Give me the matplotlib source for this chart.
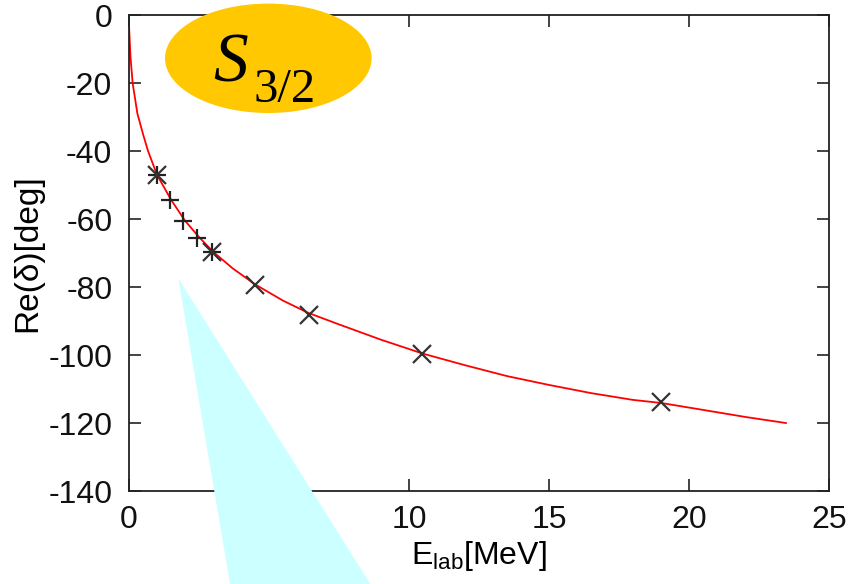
import matplotlib
matplotlib.use("Agg")
import matplotlib.pyplot as plt
from matplotlib.patches import Ellipse, Polygon

plt.rcParams['font.family'] = ['Liberation Sans', 'DejaVu Sans']
plt.rcParams['axes.unicode_minus'] = False
plt.rcParams['mathtext.fontset'] = 'custom'
plt.rcParams['mathtext.rm'] = 'Liberation Sans'

# fitted curve
curve_e = [0.0, 0.05, 0.13, 0.3, 0.5, 0.68, 1.0, 1.5, 2.0, 2.5, 3.0, 3.7, 4.5,
           5.5, 6.4, 7.5, 9.0, 10.5, 12.0, 13.5, 15.0, 16.5, 18.0, 19.0, 20.4,
           22.0, 23.46]
curve_d = [-3, -12, -20, -29, -35, -40, -47, -54.3, -60.5, -65.3, -69.6, -74.5, -79.2,
           -84, -87.6, -91, -95.5, -99.6, -103, -106.2, -108.8, -111.2, -113.2, -114.1, -116,
           -118.2, -120]

# data points
plus_e = [0.99, 1.46, 1.94, 2.44, 2.95]
plus_d = [-47.1, -54.4, -60.6, -65.5, -69.6]
cross_e = [0.99, 2.95, 4.5, 6.44, 10.47, 19.0]
cross_d = [-47.0, -69.6, -79.4, -88.2, -99.7, -113.8]

xticks = [0, 5, 10, 15, 20, 25]
yticks = [0, -20, -40, -60, -80, -100, -120, -140]

fig = plt.figure(figsize=(8.56, 5.84), dpi=100)
ax = fig.add_axes([0.1507, 0.1592, 0.8178, 0.8151])

ax.plot(curve_e, curve_d, color='#ff0000', lw=1.3, zorder=2)
ax.plot(plus_e, plus_d, ls='none', marker='+', ms=12.5, mew=1.6, color='#222222', zorder=3)
ax.plot(cross_e, cross_d, ls='none', marker='x', ms=12.5, mew=1.6, color='#333333', zorder=3)

ax.set_xlim(0, 25)
ax.set_ylim(-140, 0)
ax.set_xticks(xticks)
ax.set_yticks(yticks)
ax.tick_params(direction='in', length=8.5, width=1.1, top=True, right=True,
               labelsize=23, colors='#111111')
ax.tick_params(axis='x', pad=10)
ax.tick_params(axis='y', pad=12)
for s in ax.spines.values():
    s.set_linewidth(1.3)
    s.set_color('#222222')

ax.set_xlabel(r'E$_{\mathrm{lab}}$[MeV]', fontsize=23, labelpad=3)
ax.set_ylabel('Re(δ)[deg]', fontsize=24, labelpad=4)

# callout triangle
tri = Polygon([(178.3 / 856, 1 - 278.3 / 584), (231.0 / 856, -0.01), (374.0 / 856, -0.01)],
              closed=True, transform=fig.transFigure, facecolor='#ccffff',
              edgecolor='none', zorder=10)
fig.patches.append(tri)

# label bubble
ell = Ellipse((268.3 / 856, 1 - 58.3 / 584), 206.6 / 856, 109.4 / 584,
              transform=fig.transFigure, facecolor='#ffc800', edgecolor='none', zorder=10)
fig.patches.append(ell)
fig.text(213 / 856, 1 - 82 / 584, 'S', fontsize=50, family='Liberation Serif',
         style='italic', ha='left', va='baseline', color='black', zorder=11)
fig.text(254 / 856, 1 - 102 / 584, '3/2', fontsize=35, family='Liberation Serif',
         ha='left', va='baseline', color='black', zorder=11)

fig.savefig('out.png', dpi=100)
